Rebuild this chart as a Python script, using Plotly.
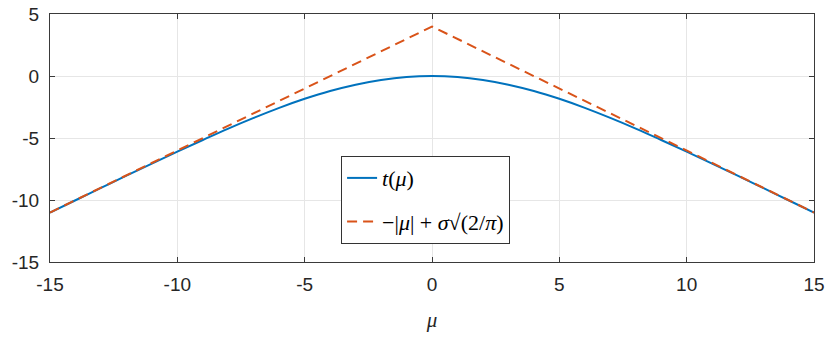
import plotly.graph_objects as go

# mu grid and values
mu = [-15, -14, -13, -12, -11, -10, -9, -8, -7, -6, -5, -4, -3, -2, -1, 0,
      1, 2, 3, 4, 5, 6, 7, 8, 9, 10, 11, 12, 13, 14, 15]
t_half = [0.0, -0.08, -0.32, -0.70, -1.21, -1.84, -2.57, -3.38, -4.24, -5.16,
          -6.10, -7.06, -8.04, -9.03, -10.02, -11.02]
t_mu = t_half[::-1] + t_half[1:]

# asymptote -|mu| + sigma*sqrt(2/pi)
asym_mu = [-15, 0, 15]
asym_val = [-11.01, 3.99, -11.01]

xticks = [-15, -10, -5, 0, 5, 10, 15]
yticks = [-15, -10, -5, 0, 5]

blue = "#0072BD"
orange = "#D95319"
axcol = "#3a3a3a"

fig = go.Figure()
fig.add_trace(go.Scatter(x=mu, y=t_mu, mode="lines", line_shape="spline",
                         line=dict(color=blue, width=2), legendgroup="a",
                         name="<i>t</i>(<i>μ</i>)"))
fig.add_trace(go.Scatter(x=asym_mu, y=asym_val, mode="lines",
                         line=dict(color=orange, width=2, dash="10px,6px"),
                         legendgroup="b",
                         name="−|<i>μ</i>| + <i>σ</i>√(2/<i>π</i>)"))

ax = dict(showline=True, linecolor=axcol, linewidth=1, mirror="ticks",
          ticks="inside", ticklen=5, tickcolor=axcol,
          showgrid=True, gridcolor="#e6e6e6", gridwidth=1,
          zeroline=False, automargin=False,
          tickfont=dict(size=19, color="#262626",
                        family="Liberation Sans, Arial, sans-serif"))

fig.update_layout(
    width=829, height=342,
    margin=dict(l=50, r=15, t=14, b=80),
    plot_bgcolor="white", paper_bgcolor="white",
    font=dict(family="Liberation Sans, Arial, sans-serif", color="#262626"),
    xaxis=dict(range=[-15, 15], tickvals=xticks,
               ticktext=[str(v) for v in xticks], ticklabelstandoff=5,
               title=dict(text="<i>μ</i>", font=dict(size=21,
                          family="Liberation Serif, serif"), standoff=18),
               **ax),
    yaxis=dict(range=[-15, 5], tickvals=yticks,
               ticktext=[str(v) for v in yticks], ticklabelstandoff=6, **ax),
    legend=dict(x=0.381, y=0.427, xanchor="left", yanchor="top",
                bgcolor="white", bordercolor="#333333", borderwidth=1,
                font=dict(size=22, family="Liberation Serif, serif", color="black"),
                tracegroupgap=12),
    showlegend=True,
)

# drop the page's default body margin so the figure sits at the corner
fig.write_html("out.html", config={"displayModeBar": False},
               post_script="document.body.style.margin='0';")
